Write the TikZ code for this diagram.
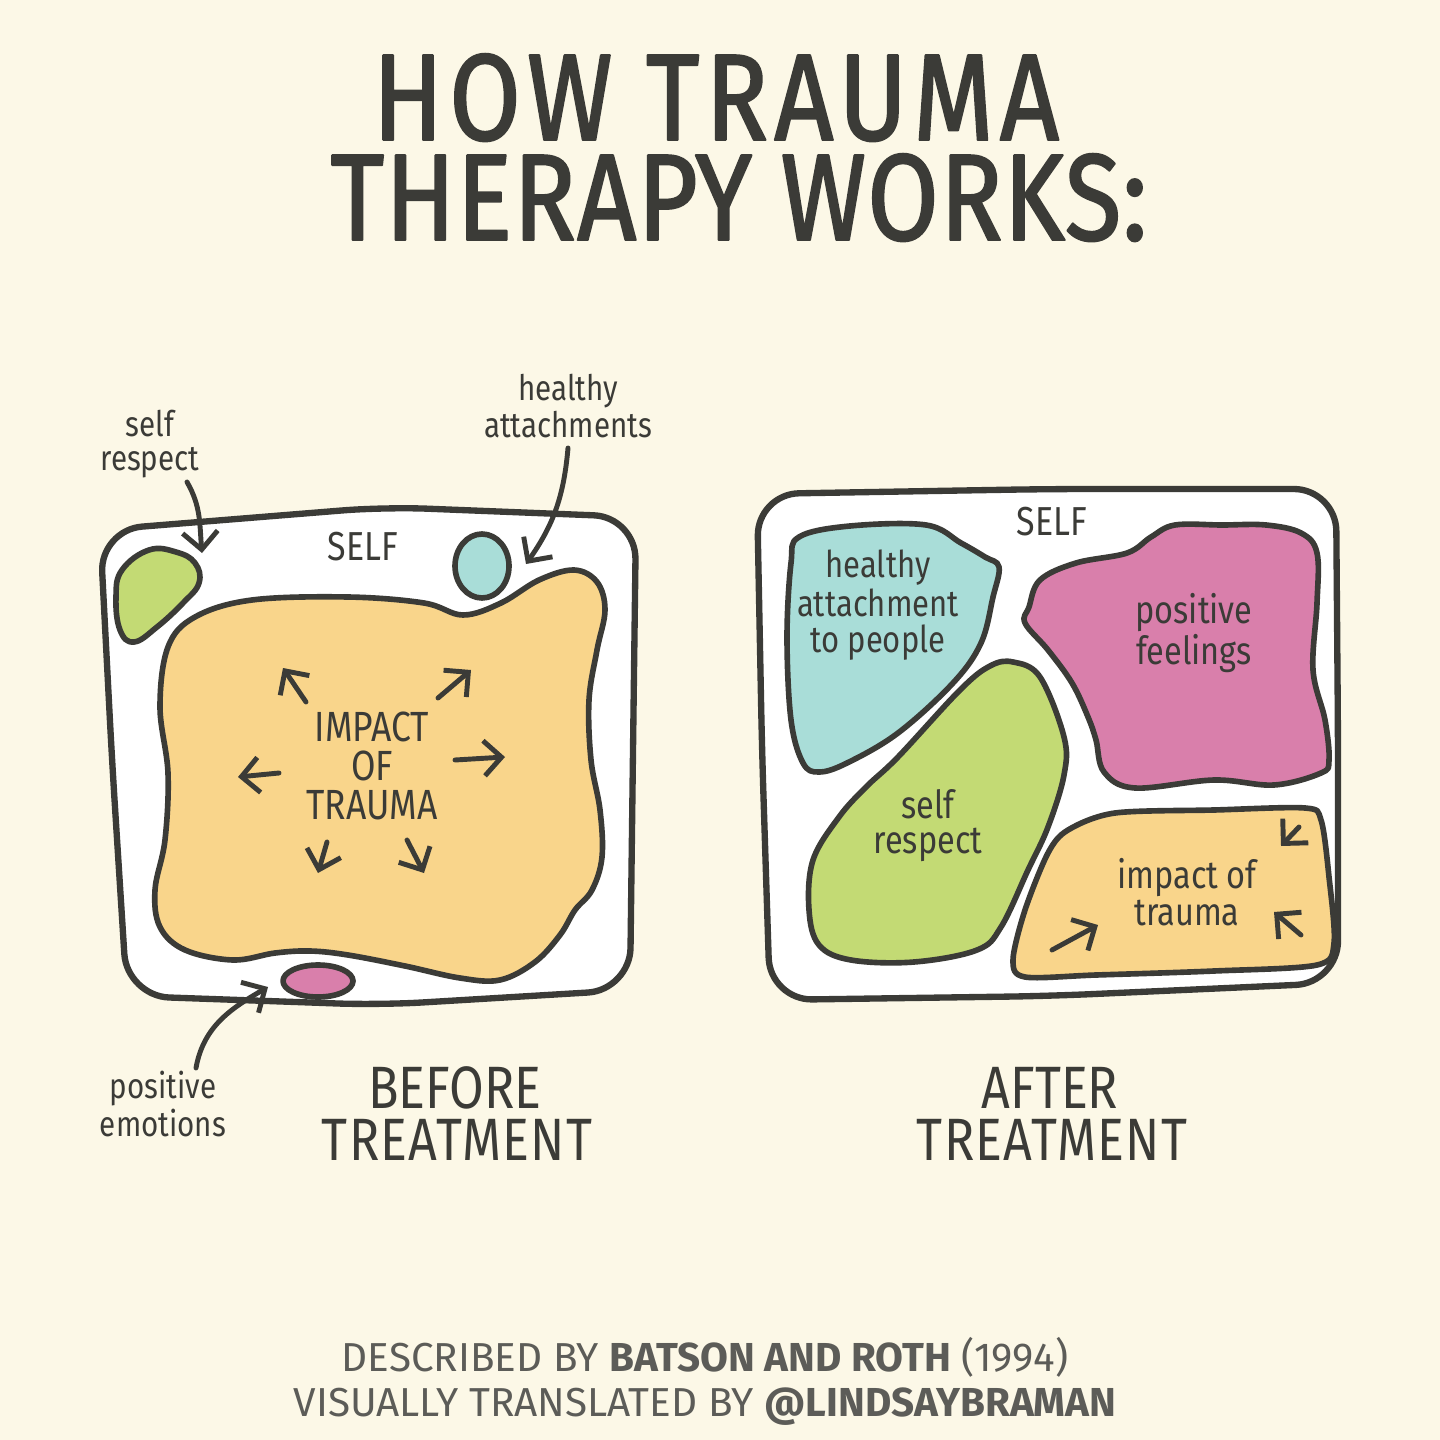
\documentclass[tikz,border=0pt]{standalone}
\usepackage{fontspec}
\setmainfont{Fira Sans}
\newfontfamily\handfont[FakeStretch=0.84]{Fira Sans}
\newfontfamily\titlefont[FakeStretch=0.84, FakeBold=1.6]{Fira Sans}
\usetikzlibrary{arrows.meta}
\definecolor{papercream}{HTML}{FCF8E7}
\definecolor{inkgray}{HTML}{3B3B37}
\definecolor{footgray}{HTML}{5C5C58}
\definecolor{traumaorange}{HTML}{F9D58B}
\definecolor{selfgreen}{HTML}{C3DA74}
\definecolor{attachteal}{HTML}{A9DDD8}
\definecolor{posipink}{HTML}{D97FAB}

\begin{document}
\begin{tikzpicture}[x=0.01cm, y=-0.01cm, line join=round, line cap=round,
  frame/.style={draw=inkgray, line width=1.8pt, fill=white, rounded corners=12},
  blob/.style={draw=inkgray, line width=1.6pt},
  arr/.style={draw=inkgray, line width=1.4pt, -{Straight Barb[length=5pt,width=10pt]}},
  hand/.style={text=inkgray, align=center, inner sep=0pt, font=\handfont}]

% paper
\fill[papercream] (0,0) rectangle (1440,1440);
\useasboundingbox (0,0) rectangle (1440,1440);

% title
\node[hand, anchor=base, font=\titlefont\fontsize{35}{35}\selectfont\addfontfeature{LetterSpace=5}] (title1) at (716,140) {HOW TRAUMA};
\node[hand, anchor=base, font=\titlefont\fontsize{35}{35}\selectfont\addfontfeature{LetterSpace=1}] (title2) at (739,240) {THERAPY WORKS:};

% ---- before treatment ----
\draw[frame] (100,530) -- (385,507) -- (636,517) -- (633,750) -- (630,990) -- (380,1005) -- (127,996) -- (112,760) -- cycle;
\draw[blob, fill=selfgreen] plot[smooth cycle, tension=0.7] coordinates {(116,597) (122,570) (149,550) (176,552) (195,563) (199,583) (183,603) (157,627) (134,642) (120,630)};
\draw[blob, fill=attachteal] (482,566) ellipse (27 and 32);
\draw[blob, fill=traumaorange] plot[smooth cycle, tension=0.6] coordinates {(168,647) (195,617) (252,600) (348,597) (424,603) (463,615) (501,603) (539,580) (574,570) (597,582) (605,610) (597,650) (589,700) (591,760) (600,810) (602,857) (592,890) (575,910) (560,935) (535,962) (500,980) (460,978) (405,966) (348,955) (310,951) (275,953) (233,960) (185,950) (160,927) (155,890) (165,840) (168,773) (160,707)};
\draw[blob, fill=posipink] (318,981) ellipse (35 and 16);

\node[hand, font=\handfont\fontsize{11.5}{11.5}\selectfont] (selfL) at (363,547) {SELF};
\node[hand, font=\handfont\fontsize{12}{11}\selectfont] (impactL) at (372,766) {IMPACT\\OF\\TRAUMA};
\foreach \a/\b in {{306,702}/{283,668}, {438,698}/{471,670}, {279,773}/{238,777}, {455,760}/{505,757}, {327,842}/{318,873}, {407,840}/{424,873}}
  \draw[arr] (\a) -- (\b);

\node[hand, font=\handfont\fontsize{10}{9.5}\selectfont] (srlab) at (150,444) {self\\respect};
\node[hand, font=\handfont\fontsize{10}{9.5}\selectfont] (halab) at (568,406) {healthy\\attachments};
\node[hand, font=\handfont\fontsize{10}{9.5}\selectfont] (pelab) at (163,1104) {positive\\emotions};
\coordinate (srtip) at (202,553);
\coordinate (hatip) at (526,564);
\coordinate (petip) at (268,987);
\draw[arr] (187,482) to[out=-60, in=95] (srtip);
\draw[arr] (568,448) to[out=-95, in=55] (hatip);
\draw[arr] (196,1068) to[out=80, in=-150] (petip);

\node[hand, anchor=base, font=\handfont\fontsize{17}{17}\selectfont] (before1) at (455,1108) {BEFORE};
\node[hand, anchor=base, font=\handfont\fontsize{17}{17}\selectfont\addfontfeature{LetterSpace=2}] (before2) at (457,1160) {TREATMENT};

% ---- after treatment ----
\draw[frame] (757,494) -- (1050,489) -- (1336,489) -- (1338,740) -- (1338,983) -- (1050,996) -- (770,1000) -- (762,750) -- cycle;
\draw[blob, fill=attachteal] plot[smooth cycle, tension=0.6] coordinates {(799,537) (850,526) (926,525) (961,543) (985,557) (999,567) (993,597) (981,643) (953,683) (898,733) (847,763) (819,772) (803,763) (791,720) (787,637) (791,563)};
\draw[blob, fill=posipink] plot[smooth cycle, tension=0.6] coordinates {(1029,607) (1040,580) (1076,563) (1127,553) (1151,537) (1175,525) (1222,525) (1266,525) (1301,533) (1317,553) (1317,603) (1313,670) (1325,720) (1329,760) (1321,773) (1274,785) (1214,780) (1135,788) (1104,772) (1096,740) (1088,717) (1072,683) (1048,650) (1025,623)};
\draw[blob, fill=selfgreen] plot[smooth cycle, tension=0.6] coordinates {(1013,662) (1040,677) (1064,737) (1064,775) (1048,827) (1028,870) (1001,927) (977,950) (914,962) (851,960) (819,945) (809,910) (813,860) (839,817) (866,787) (898,757) (960,690) (990,666)};
\draw[blob, fill=traumaorange] plot[smooth cycle, tension=0.5] coordinates {(1068,830) (1115,813) (1214,810) (1305,808) (1321,820) (1329,877) (1334,943) (1317,965) (1214,971) (1096,975) (1025,977) (1013,960) (1025,910) (1048,853)};

\node[hand, font=\handfont\fontsize{11.5}{11.5}\selectfont] (selfR) at (1052,522) {SELF};
\node[hand, font=\handfont\fontsize{10.5}{10}\selectfont] (haR) at (878,605) {healthy\\attachment\\to people};
\node[hand, font=\handfont\fontsize{11}{10.5}\selectfont] (pfR) at (1194,633) {positive\\feelings};
\node[hand, font=\handfont\fontsize{11}{10}\selectfont] (srR) at (928,826) {self\\respect};
\node[hand, font=\handfont\fontsize{11}{10.5}\selectfont] (itR) at (1187,892) {impact of\\trauma};
\draw[arr] (1299,827) -- (1281,846);
\draw[arr] (1301,935) -- (1274,912);
\draw[arr] (1052,950) -- (1098,925);

\node[hand, anchor=base, font=\handfont\fontsize{17}{17}\selectfont] (after1) at (1050,1108) {AFTER};
\node[hand, anchor=base, font=\handfont\fontsize{17}{17}\selectfont\addfontfeature{LetterSpace=2}] (after2) at (1052,1160) {TREATMENT};

% credits
\node[text=footgray, align=center, inner sep=0pt, font=\fontsize{11.5}{12.8}\selectfont] (credit) at (705,1381)
  {DESCRIBED BY \textbf{BATSON AND ROTH} (1994)\\VISUALLY TRANSLATED BY \textbf{@LINDSAYBRAMAN}};
\end{tikzpicture}
\end{document}
